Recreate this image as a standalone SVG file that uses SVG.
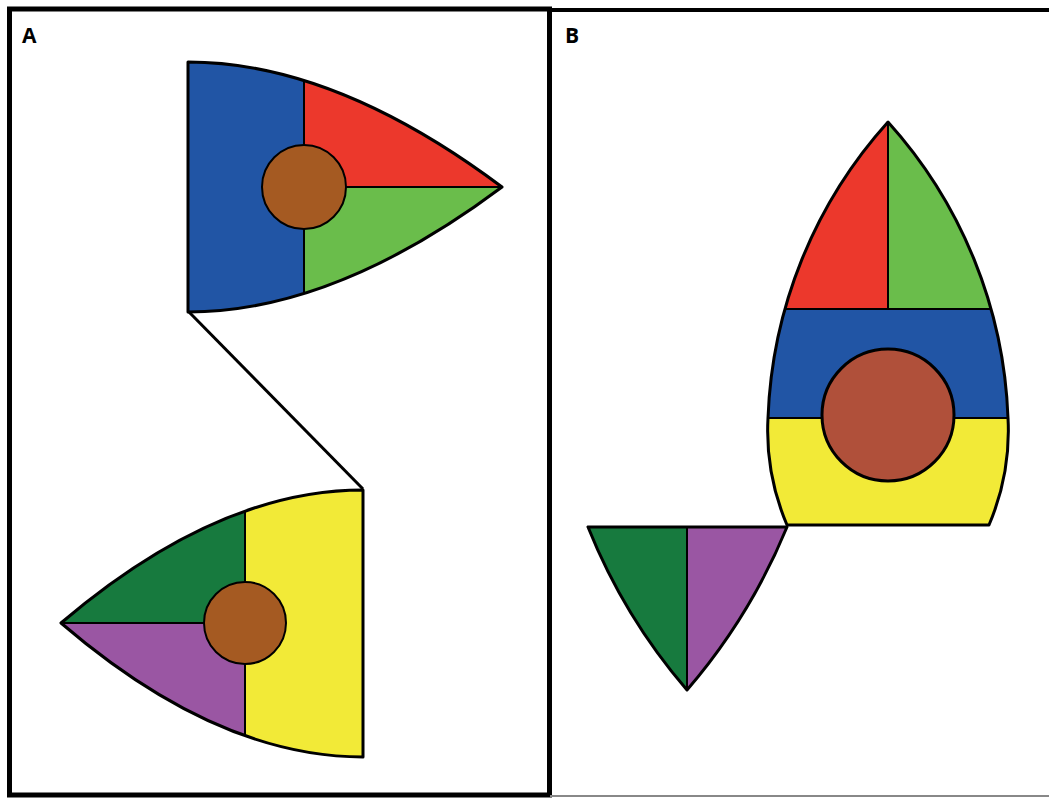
<svg xmlns="http://www.w3.org/2000/svg" width="1049" height="798" viewBox="0 0 1049 798">
<style>
.out{stroke:#000;stroke-width:3;stroke-linejoin:round}
.in{stroke:#000;stroke-width:2;stroke-linejoin:round}
.lbl{font-family:"Open Sans","Liberation Sans",sans-serif;font-weight:bold;font-size:21px;fill:#000}
.blue{fill:#2155a5}.red{fill:#ec382c}.green{fill:#6abd4b}.dgreen{fill:#177a3e}.purple{fill:#9a56a3}.yellow{fill:#f2ea37}
.brownA{fill:#a55a22}.brownB{fill:#b0503a}
</style>
<defs>
<path id="outA1" d="M188,62 Q335,62 502,187 Q335,312 188,312 Z"/>
<path id="outA2" d="M363,490 Q217,490 61,623 Q217,757 363,757 Z"/>
<path id="outB1" d="M888,122 A467,467 0 0 0 768,418 C766,455 773,492 787,525 L989,525 C1003,492 1010,455 1008,418 A467,467 0 0 0 888,122 Z"/>
<path id="outB2" d="M588,527 L787,527 Q750,617 687,690 Q624,617 588,527 Z"/>
<clipPath id="cA1"><use href="#outA1"/></clipPath>
<clipPath id="cA2"><use href="#outA2"/></clipPath>
<clipPath id="cB1"><use href="#outB1"/></clipPath>
<clipPath id="cB2"><use href="#outB2"/></clipPath>
</defs>
<rect x="0" y="0" width="1049" height="798" fill="#fff"/>
<g id="panelA-frame">
<rect x="9.5" y="9" width="540" height="786" fill="none" stroke="#000" stroke-width="5"/>
<text class="lbl" x="22" y="43">A</text>
</g>
<g id="panelB-frame">
<line x1="551" y1="10" x2="1049" y2="10" stroke="#000" stroke-width="4"/>
<line x1="550" y1="796" x2="1049" y2="796" stroke="#888" stroke-width="2"/>
<text class="lbl" x="565" y="43">B</text>
</g>
<g id="connectors">
<line x1="189" y1="312" x2="363" y2="489" stroke="#000" stroke-width="3"/>
</g>
<g id="A-top">
<g clip-path="url(#cA1)">
<rect class="blue" x="180" y="50" width="124" height="270"/>
<rect class="red in" x="304" y="50" width="210" height="137"/>
<rect class="green in" x="304" y="187" width="210" height="135"/>
</g>
<use href="#outA1" class="out" fill="none"/>
<circle class="brownA in" cx="304" cy="187" r="42"/>
</g>
<g id="A-bottom">
<g clip-path="url(#cA2)">
<rect class="yellow" x="245" y="480" width="130" height="290"/>
<rect class="dgreen in" x="50" y="480" width="195" height="143"/>
<rect class="purple in" x="50" y="623" width="195" height="147"/>
</g>
<use href="#outA2" class="out" fill="none"/>
<circle class="brownA in" cx="245" cy="623" r="41"/>
</g>
<g id="B-big">
<g clip-path="url(#cB1)">
<rect class="red in" x="760" y="110" width="128" height="199"/>
<rect class="green in" x="888" y="110" width="130" height="199"/>
<rect class="blue in" x="760" y="309" width="260" height="109"/>
<rect class="yellow in" x="760" y="418" width="260" height="120"/>
</g>
<use href="#outB1" class="out" fill="none"/>
<circle class="brownB out" cx="888" cy="415" r="66"/>
</g>
<g id="B-small">
<g clip-path="url(#cB2)">
<rect class="dgreen in" x="580" y="520" width="107" height="180"/>
<rect class="purple in" x="687" y="520" width="110" height="180"/>
</g>
<use href="#outB2" class="out" fill="none"/>
</g>
</svg>
